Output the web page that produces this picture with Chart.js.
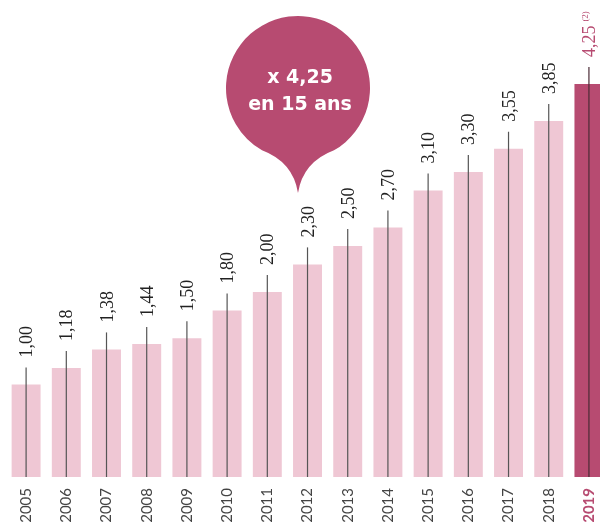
<!DOCTYPE html>
<html>
<head>
<meta charset="utf-8">
<script src="https://cdn.jsdelivr.net/npm/chart.js@4"></script>
<style>
  html, body { margin: 0; padding: 0; overflow: hidden; background: #fff; }
  #wrap { width: 618px; height: 522px; }
</style>
</head>
<body>
<div id="wrap"><canvas id="growthChart" width="618" height="522"></canvas></div>
<script>
const years = ["2005", "2006", "2007", "2008", "2009", "2010", "2011", "2012",
  "2013", "2014", "2015", "2016", "2017", "2018", "2019"];
const values = [1.00, 1.18, 1.38, 1.44, 1.50, 1.80, 2.00, 2.30, 2.50, 2.70,
  3.10, 3.30, 3.55, 3.85, 4.25];
const bubbleLines = ["x 4,25", "en 15 ans"];
const noteMark = "(2)";

const light = "#efc7d4";
const dark = "#b74b71";
const lastIdx = years.length - 1;

const fmt = (v) => v.toFixed(2).replace(".", ",");

// stems above each bar + rotated value labels
const valueLabels = {
  id: "valueLabels",
  afterDatasetsDraw(chart) {
    const ctx = chart.ctx;
    const bars = chart.getDatasetMeta(0).data;
    bars.forEach((bar, i) => {
      const top = bar.y - 17;
      ctx.save();
      ctx.strokeStyle = i === lastIdx ? "#4a2a35" : "#555";
      ctx.lineWidth = 1.2;
      ctx.beginPath();
      ctx.moveTo(bar.x, bar.base);
      ctx.lineTo(bar.x, top);
      ctx.stroke();

      ctx.translate(bar.x, top - 10);
      ctx.rotate(-Math.PI / 2);
      ctx.font = "18px 'Liberation Serif'";
      ctx.textAlign = "left";
      ctx.textBaseline = "alphabetic";
      ctx.fillStyle = i === lastIdx ? dark : "#222";
      const txt = fmt(values[i]);
      ctx.fillText(txt, 0, 6);
      if (i === lastIdx) {
        const w = ctx.measureText(txt).width;
        ctx.font = "9px 'Liberation Serif'";
        ctx.fillText(noteMark, w + 4, -1);
      }
      ctx.restore();
    });
  },
};

// speech bubble
const bubble = {
  id: "bubble",
  afterDraw(chart) {
    const ctx = chart.ctx;
    const cx = 298, cy = 88, r = 72;
    const tipY = 193;
    const a = Math.PI / 3;
    const rx = cx + r * Math.cos(a), ry = cy + r * Math.sin(a);
    ctx.save();
    ctx.fillStyle = dark;
    ctx.beginPath();
    ctx.moveTo(cx, tipY);
    ctx.quadraticCurveTo(cx + 5, 162, rx, ry);
    ctx.arc(cx, cy, r, a, Math.PI - a, true);
    ctx.quadraticCurveTo(cx - 5, 162, cx, tipY);
    ctx.closePath();
    ctx.fill();

    ctx.fillStyle = "#fff";
    ctx.font = "bold 19px 'DejaVu Sans'";
    ctx.textAlign = "center";
    ctx.textBaseline = "alphabetic";
    ctx.fillText(bubbleLines[0], cx + 2, 83);
    ctx.fillText(bubbleLines[1], cx + 2, 110);
    ctx.restore();
  },
};

new Chart(document.getElementById("growthChart"), {
  type: "bar",
  data: {
    labels: years,
    datasets: [
      {
        data: values,
        backgroundColor: years.map((y, i) => (i === lastIdx ? dark : light)),
        barPercentage: 0.72,
        categoryPercentage: 1,
      },
    ],
  },
  options: {
    responsive: false,
    animation: false,
    layout: { padding: { left: 6, right: 2, top: 0, bottom: 0 } },
    plugins: { legend: { display: false }, tooltip: { enabled: false } },
    scales: {
      x: {
        grid: { display: false, drawTicks: false },
        border: { display: false },
        ticks: {
          minRotation: 90,
          maxRotation: 90,
          padding: 11,
          autoSkip: false,
          color: (c) => (c.index === lastIdx ? dark : "#444"),
          font: (c) => ({
            family: "Lato",
            size: 15,
            weight: c.index === lastIdx ? "bold" : "normal",
          }),
        },
        afterFit: (s) => { s.height = 45; },
      },
      y: {
        display: false,
        min: 0,
        max: 5.16,
      },
    },
  },
  plugins: [valueLabels, bubble],
});
</script>
</body>
</html>
